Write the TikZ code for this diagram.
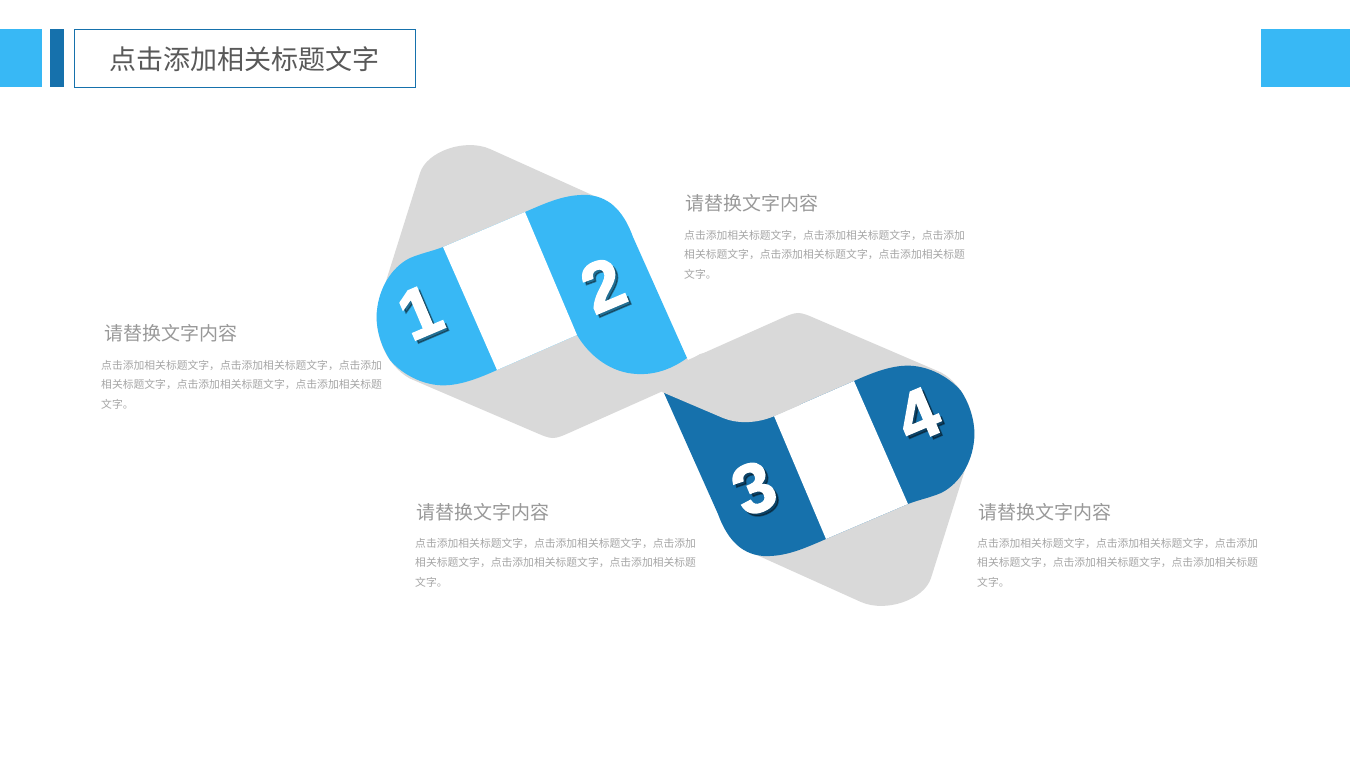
\documentclass[tikz,border=0pt]{standalone}
\usepackage{fontspec}
\newfontfamily\cjk{Noto Sans CJK SC}
\newfontfamily\digitfont{Liberation Sans}[BoldFeatures={FakeBold=2.2}]
\definecolor{lblue}{HTML}{38B8F5}
\definecolor{dblue}{HTML}{1671AC}
\definecolor{lgray}{HTML}{D9D9D9}
\definecolor{titlegray}{HTML}{595959}
\definecolor{subgray}{HTML}{999999}
\definecolor{bodygray}{HTML}{A6A6A6}
\newcommand{\ribbonband}{(443,247) -- (525,212)
  .. controls (548,202) and (566,194) .. (588,195)
  .. controls (612,197) and (625,215) .. (633,237)
  -- (687,358)
  .. controls (672,369) and (655,375) .. (637,374)
  .. controls (612,373) and (590,357) .. (577,335)
  -- (497,370)
  .. controls (475,380) and (455,387) .. (437,385)
  .. controls (418,383) and (400,372) .. (390,360)
  .. controls (380,345) and (375,325) .. (377,310)
  .. controls (379,290) and (390,268) .. (410,258)
  .. controls (422,253) and (433,251) .. (443,247) -- cycle}
\newcommand{\whitestrip}{(443,247) -- (525,212) -- (577,335) -- (497,370) -- cycle}
\tikzset{
  numtxt/.style={font=\digitfont\bfseries\fontsize{70}{70}\selectfont, text=white, rotate=23, inner sep=0},
  numshadow/.style={font=\digitfont\bfseries\fontsize{70}{70}\selectfont, text=black, text opacity=0.4, rotate=23, inner sep=0},
  subtitle/.style={anchor=west, inner sep=0, font=\cjk\fontsize{19}{19}\selectfont, text=subgray},
  bodytext/.style={anchor=north west, inner sep=0, align=left, font=\cjk\fontsize{10.8}{19.5}\selectfont, text=bodygray},
}
\begin{document}
\begin{tikzpicture}[x=1pt,y=-1pt]
\useasboundingbox (0,0) rectangle (1350,759);
\fill[white] (0,0) rectangle (1350,759);
% header
\fill[lblue] (0,29) rectangle (42,87);
\fill[dblue] (50,29) rectangle (64,87);
\node[draw=dblue, line width=1pt, minimum width=341pt, minimum height=58pt, inner sep=0, anchor=north west,
  font=\cjk\fontsize{27}{27}\selectfont, text=titlegray] (title) at (73.5,29.5) {点击添加相关标题文字};
\fill[lblue] (1261,29) rectangle (1350,87);
% gray ribbon background
\fill[lgray] (378.5,305) -- (420,173) .. controls (426.8,151.4) and (465,138) .. (490,149)
  -- (612,204) -- (668,330) -- (688,360)
  -- (779.7,319.1) .. controls (798,311) .. (816.4,318.9)
  -- (941,372.4) .. controls (966,386) and (979,421) .. (972.5,446)
  -- (931,578) .. controls (924.2,599.6) and (886,613) .. (861,602)
  -- (739,547) -- (683,421) -- (663,391)
  -- (571.3,431.9) .. controls (553,440) .. (534.6,432.1)
  -- (410,378.6) .. controls (385,365) and (372,330) .. (378.5,305)
  -- cycle;
% light blue band
\fill[lblue] \ribbonband;
\fill[white] \whitestrip;
% dark blue band (point reflection)
\begin{scope}[rotate around={180:(675.5,375.5)}]
\fill[dblue] \ribbonband;
\fill[white] \whitestrip;
\end{scope}
% gray crossing over the top of band 3
\fill[lgray] (662,392) -- (723,418) .. controls (735,423) and (755,425) .. (777,415)
  -- (800,405) -- (800,330) -- (700,354) -- (672,371) -- cycle;
% digits
\node[numshadow] (s1) at (423,315) {1};
\node[numtxt] (n1) at (420,312) {1};
\node[numshadow] (s2) at (606,288) {2};
\node[numtxt] (n2) at (603,285) {2};
\node[numshadow] (s3) at (757,491) {3};
\node[numtxt] (n3) at (754,488) {3};
\node[numshadow] (s4) at (921,418) {4};
\node[numtxt] (n4) at (918,415) {4};
% texts
\node[subtitle] (ta) at (104,333) {请替换文字内容};
\node[bodytext] (ba) at (101,360) {点击添加相关标题文字，点击添加相关标题文字，点击添加\\相关标题文字，点击添加相关标题文字，点击添加相关标题\\文字。};
\node[subtitle] (tb) at (685,203) {请替换文字内容};
\node[bodytext] (bb) at (684,230) {点击添加相关标题文字，点击添加相关标题文字，点击添加\\相关标题文字，点击添加相关标题文字，点击添加相关标题\\文字。};
\node[subtitle] (tc) at (416,512) {请替换文字内容};
\node[bodytext] (bc) at (415,538) {点击添加相关标题文字，点击添加相关标题文字，点击添加\\相关标题文字，点击添加相关标题文字，点击添加相关标题\\文字。};
\node[subtitle] (td) at (978,512) {请替换文字内容};
\node[bodytext] (bd) at (977,538) {点击添加相关标题文字，点击添加相关标题文字，点击添加\\相关标题文字，点击添加相关标题文字，点击添加相关标题\\文字。};
\end{tikzpicture}
\end{document}
